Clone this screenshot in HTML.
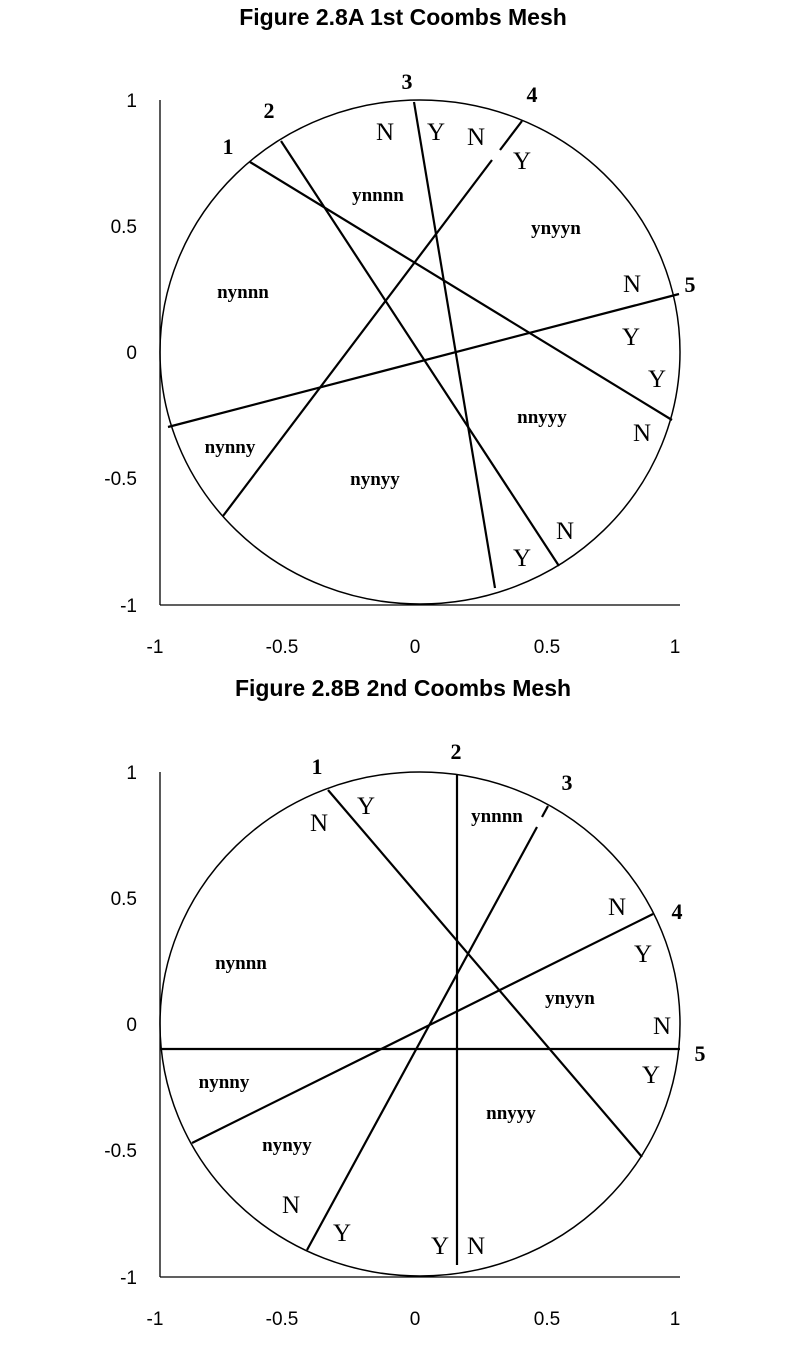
<!DOCTYPE html>
<html><head><style>
html,body{margin:0;padding:0;background:#fff}
svg{display:block}
.t{font-family:"Liberation Sans",Arial,sans-serif;font-weight:bold;font-size:23px}
.ax{font-family:"Liberation Sans",Arial,sans-serif;font-size:19px}
.n{font-family:"Liberation Serif",serif;font-weight:bold;font-size:22px}
.l{font-family:"Liberation Serif",serif;font-size:25px}
.r{font-family:"Liberation Serif",serif;font-weight:bold;font-size:19px}
</style></head><body>
<svg width="805" height="1350" viewBox="0 0 805 1350" xmlns="http://www.w3.org/2000/svg">
<g text-anchor="middle">
<text class="t" x="403" y="25">Figure 2.8A 1st Coombs Mesh</text>
<text class="t" x="403" y="696">Figure 2.8B 2nd Coombs Mesh</text>
</g>
<!-- Chart A -->
<g stroke="#000" stroke-width="1.3" fill="none">
<line x1="160" y1="100" x2="160" y2="605"/>
<line x1="160" y1="605" x2="680" y2="605"/>
<ellipse cx="420" cy="352" rx="260" ry="252" stroke-width="1.5"/>
</g>
<g stroke="#000" stroke-width="2.2">
<line x1="250" y1="162" x2="672" y2="420"/>
<line x1="281" y1="141" x2="559" y2="566"/>
<line x1="414" y1="102" x2="495" y2="588"/>
<line x1="522" y1="121" x2="500" y2="150"/>
<line x1="492" y1="160" x2="223" y2="516"/>
<line x1="168" y1="427" x2="679" y2="294"/>
</g>
<g class="ax" text-anchor="end">
<text x="137" y="107">1</text><text x="137" y="233">0.5</text><text x="137" y="359">0</text><text x="137" y="485">-0.5</text><text x="137" y="612">-1</text>
</g>
<g class="ax" text-anchor="middle">
<text x="155" y="653">-1</text><text x="282" y="653">-0.5</text><text x="415" y="653">0</text><text x="547" y="653">0.5</text><text x="675" y="653">1</text>
</g>
<g class="n" text-anchor="middle">
<text x="228" y="154">1</text><text x="269" y="118">2</text><text x="407" y="89">3</text><text x="532" y="102">4</text><text x="690" y="292">5</text>
</g>
<g class="l" text-anchor="middle">
<text x="385" y="140">N</text><text x="436" y="140">Y</text><text x="476" y="145">N</text><text x="522" y="169">Y</text>
<text x="632" y="292">N</text><text x="631" y="345">Y</text><text x="657" y="387">Y</text><text x="642" y="441">N</text>
<text x="565" y="539">N</text><text x="522" y="566">Y</text>
</g>
<g class="r" text-anchor="middle">
<text x="378" y="201">ynnnn</text><text x="556" y="234">ynyyn</text><text x="243" y="298">nynnn</text>
<text x="542" y="423">nnyyy</text><text x="230" y="453">nynny</text><text x="375" y="485">nynyy</text>
</g>
<!-- Chart B -->
<g stroke="#000" stroke-width="1.3" fill="none">
<line x1="160" y1="772" x2="160" y2="1277"/>
<line x1="160" y1="1277" x2="680" y2="1277"/>
<ellipse cx="420" cy="1024" rx="260" ry="252" stroke-width="1.5"/>
</g>
<g stroke="#000" stroke-width="2.2">
<line x1="328" y1="790" x2="642" y2="1157"/>
<line x1="457" y1="775" x2="457" y2="1265"/>
<line x1="548" y1="806" x2="542" y2="817"/>
<line x1="537" y1="827" x2="307" y2="1250"/>
<line x1="192" y1="1143" x2="653" y2="914"/>
<line x1="160" y1="1049" x2="680" y2="1049"/>
</g>
<g class="ax" text-anchor="end">
<text x="137" y="779">1</text><text x="137" y="905">0.5</text><text x="137" y="1031">0</text><text x="137" y="1157">-0.5</text><text x="137" y="1284">-1</text>
</g>
<g class="ax" text-anchor="middle">
<text x="155" y="1325">-1</text><text x="282" y="1325">-0.5</text><text x="415" y="1325">0</text><text x="547" y="1325">0.5</text><text x="675" y="1325">1</text>
</g>
<g class="n" text-anchor="middle">
<text x="317" y="774">1</text><text x="456" y="759">2</text><text x="567" y="790">3</text><text x="677" y="919">4</text><text x="700" y="1061">5</text>
</g>
<g class="l" text-anchor="middle">
<text x="366" y="814">Y</text><text x="319" y="831">N</text><text x="617" y="915">N</text><text x="643" y="962">Y</text>
<text x="662" y="1034">N</text><text x="651" y="1083">Y</text><text x="291" y="1213">N</text><text x="342" y="1241">Y</text>
<text x="440" y="1254">Y</text><text x="476" y="1254">N</text>
</g>
<g class="r" text-anchor="middle">
<text x="497" y="822">ynnnn</text><text x="570" y="1004">ynyyn</text><text x="241" y="969">nynnn</text>
<text x="224" y="1088">nynny</text><text x="511" y="1119">nnyyy</text><text x="287" y="1151">nynyy</text>
</g>
</svg>
</body></html>
